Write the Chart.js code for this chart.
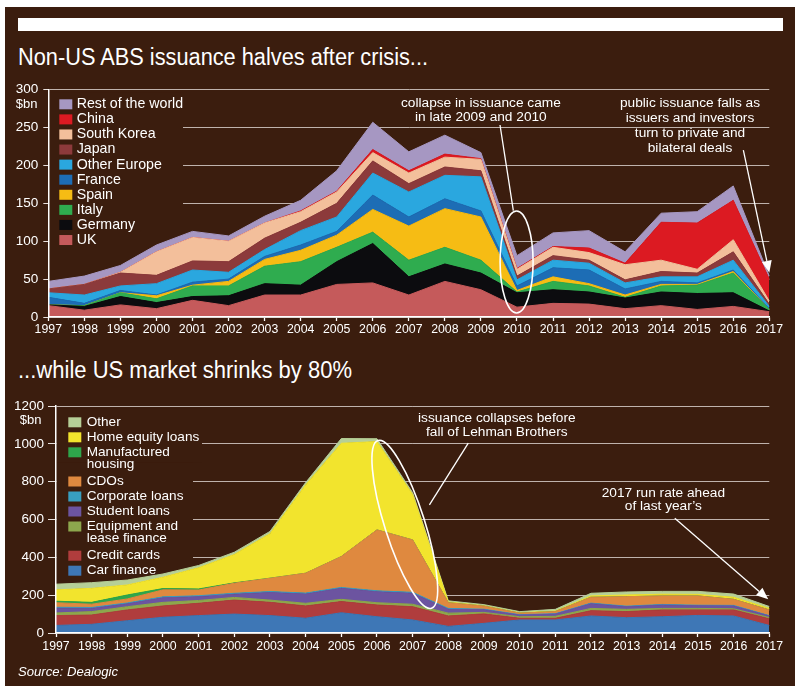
<!DOCTYPE html>
<html>
<head>
<meta charset="utf-8">
<script src="https://cdn.jsdelivr.net/npm/chart.js@4.4.1/dist/chart.umd.min.js"></script>
<style>
  body { margin: 0; width: 800px; height: 693px; background: #fff; position: relative; overflow: hidden; }
  .panel { position: absolute; left: 5px; top: 7px; width: 790px; height: 679px; background: #3b1d0e; }
  .bar { position: absolute; left: 18px; top: 18px; width: 765px; height: 13px; background: #fff; }
  .title { position: absolute; left: 18px; color: #fff; font-family: 'Liberation Sans', Arial, sans-serif; font-size: 23.5px; line-height: 24px; white-space: nowrap; transform-origin: 0 0; }
  .source { position: absolute; left: 18px; top: 665px; color: #fff; font-family: 'Liberation Sans', Arial, sans-serif; font-style: italic; font-size: 13px; line-height: 14px; white-space: nowrap; transform-origin: 0 0; }
  canvas { position: absolute; left: 0; }
</style>
</head>
<body>
<div class="panel"></div>
<div class="bar"></div>
<div class="title" data-w="410" style="top:45px">Non-US ABS issuance halves after crisis...</div>
<div class="title" data-w="334" style="top:358px">...while US market shrinks by 80%</div>
<canvas id="nonUs" width="800" height="345" style="top:0"></canvas>
<canvas id="us" width="800" height="330" style="top:360px"></canvas>
<div class="source" data-w="100">Source: Dealogic</div>

<script>
const FONT = "'Liberation Sans', Arial, sans-serif";
const BG = '#3b1d0e';

const years = ['1997', '1998', '1999', '2000', '2001', '2002', '2003', '2004', '2005', '2006', '2007',
  '2008', '2009', '2010', '2011', '2012', '2013', '2014', '2015', '2016', '2017'];

// non-US issuance, $bn (bottom of stack first)
const uk          = [15, 9, 16, 11, 22, 15, 29, 29, 43, 45, 29, 47, 36, 13, 18, 17, 11, 15, 10, 14, 7];
const germany     = [1, 5, 11, 8, 5, 13, 15, 13, 30, 52, 24, 23, 22, 19, 18, 16, 14, 18, 21, 18, 1];
const italy       = [0, 1, 5, 5, 14, 13, 23, 31, 19, 15, 22, 22, 17, 1, 11, 8, 1, 8, 11, 26, 2];
const spain       = [0, 0, 0, 4, 1, 6, 9, 15, 16, 30, 45, 51, 57, 2, 6, 3, 3, 2, 1, 2, 0];
const france      = [10, 3, 3, 1, 4, 3, 4, 7, 5, 19, 12, 13, 8, 6, 12, 18, 8, 4, 2, 2, 1];
const otherEurope = [6, 11, 6, 15, 16, 9, 9, 19, 19, 29, 33, 31, 45, 8, 10, 9, 8, 6, 8, 13, 3];
const japan       = [5, 14, 17, 11, 12, 14, 15, 11, 18, 16, 11, 11, 8, 5, 6, 4, 4, 7, 5, 11, 3];
const southKorea  = [0, 0, 1, 31, 31, 27, 20, 14, 15, 11, 14, 13, 15, 9, 11, 10, 20, 15, 5, 16, 4];
const china       = [0, 0, 0, 0, 0, 0, 0, 1, 1, 4, 3, 4, 1, 1, 1, 6, 2, 50, 61, 52, 29];
const restOfWorld = [10, 11, 9, 9, 8, 7, 9, 14, 27, 36, 25, 25, 8, 17, 18, 23, 15, 12, 15, 19, 4];
const nonUsTicks  = [0, 50, 100, 150, 200, 250, 300];

// US issuance, $bn (bottom of stack first)
const carFinance     = [40, 46, 65, 83, 92, 100, 92, 78, 107, 86, 69, 35, 51, 69, 69, 90, 81, 86, 93, 90, 40];
const creditCards    = [52, 49, 57, 60, 65, 74, 70, 65, 59, 62, 70, 55, 50, 9, 9, 28, 32, 36, 29, 32, 35];
const equipment      = [14, 18, 17, 19, 15, 14, 12, 14, 12, 12, 13, 15, 8, 8, 10, 12, 12, 8, 8, 6, 7];
const studentLoans   = [25, 17, 15, 24, 20, 17, 40, 49, 58, 58, 58, 20, 14, 9, 12, 25, 14, 18, 14, 15, 8];
const corporateLoans = [5, 5, 5, 5, 5, 5, 5, 5, 5, 5, 5, 5, 3, 2, 2, 3, 3, 3, 3, 3, 2];
const cdos           = [24, 17, 21, 37, 30, 53, 70, 105, 163, 322, 277, 30, 16, 8, 11, 31, 50, 45, 49, 32, 30];
const manufactured   = [8, 10, 21, 7, 6, 2, 1, 0, 0, 0, 0, 0, 0, 0, 0, 0, 0, 0, 0, 0, 0];
const homeEquity     = [60, 74, 53, 60, 112, 150, 235, 467, 599, 467, 240, 4, 2, 2, 3, 7, 9, 9, 8, 11, 8];
const otherUs        = [30, 30, 26, 17, 12, 12, 12, 12, 25, 15, 10, 6, 6, 6, 9, 14, 16, 15, 16, 17, 10];
const usTicks        = [0, 200, 400, 600, 800, 1000, 1200];

const nonUsSeries = [
  ['UK', uk, '#c55a5b'],
  ['Germany', germany, '#0c0c0f'],
  ['Italy', italy, '#2fac4f'],
  ['Spain', spain, '#f6bc14'],
  ['France', france, '#1d6db5'],
  ['Other Europe', otherEurope, '#2aa7df'],
  ['Japan', japan, '#8c3a3b'],
  ['South Korea', southKorea, '#f3bf9b'],
  ['China', china, '#dc1a22'],
  ['Rest of the world', restOfWorld, '#a697c2'],
];

const usSeries = [
  ['Car finance', carFinance, '#3e77b6'],
  ['Credit cards', creditCards, '#b03d3d'],
  [['Equipment and', 'lease finance'], equipment, '#8da74d'],
  ['Student loans', studentLoans, '#6c54a0'],
  ['Corporate loans', corporateLoans, '#389fc0'],
  ['CDOs', cdos, '#df893f'],
  [['Manufactured', 'housing'], manufactured, '#2ea64b'],
  ['Home equity loans', homeEquity, '#f2e42d'],
  ['Other', otherUs, '#b6cf97'],
];

// squeeze the headline texts to the width they have in the original
document.querySelectorAll('[data-w]').forEach(el => {
  const w = el.getBoundingClientRect().width;
  el.style.transform = 'scaleX(' + (el.dataset.w / w) + ')';
});

// brown patch behind the legend so the gridlines stop at it
const legendBack = {
  id: 'legendBack',
  beforeDatasetsDraw(chart, args, o) {
    const { ctx, chartArea: a } = chart;
    const y = chart.scales.y;
    ctx.save();
    ctx.fillStyle = BG;
    o.boxes.forEach(b => {
      ctx.fillRect(a.left + 1, y.getPixelForValue(b.from), b.right - a.left - 1,
        y.getPixelForValue(b.to) - y.getPixelForValue(b.from));
    });
    ctx.restore();
  }
};

const legendDraw = {
  id: 'legendDraw',
  afterDatasetsDraw(chart, args, o) {
    const { ctx, chartArea: a } = chart;
    ctx.save();
    ctx.font = o.size + 'px ' + FONT;
    ctx.textBaseline = 'middle';
    ctx.textAlign = 'left';
    let yy = a.top + o.top;
    const items = chart.data.datasets.slice().reverse();
    items.forEach(ds => {
      const lines = Array.isArray(ds.label) ? ds.label : [ds.label];
      ctx.fillStyle = ds.backgroundColor;
      ctx.fillRect(a.left + o.left, yy - 5, 13, 10);
      ctx.fillStyle = '#fff';
      lines.forEach((s, k) => ctx.fillText(s, a.left + o.left + o.gap, yy + k * o.lineH));
      yy += o.step + (lines.length - 1) * (o.lineH + 2.5);
    });
    // unit label under the top tick
    ctx.textAlign = 'right';
    ctx.font = '13px ' + FONT;
    ctx.fillText('$bn', o.unitX, a.top + 14.7);
    ctx.restore();
  }
};

const notes = {
  id: 'notes',
  afterDraw(chart, args, o) {
    const { ctx, scales: { x, y } } = chart;
    const P = (p) => [x.getPixelForValue(p[0]), y.getPixelForValue(p[1])];
    ctx.save();
    ctx.fillStyle = '#fff';
    ctx.strokeStyle = '#fff';
    ctx.lineWidth = 1.3;
    ctx.font = '13.7px ' + FONT;
    ctx.textAlign = 'center';
    ctx.textBaseline = 'middle';
    o.texts.forEach(t => {
      const [px, py] = P(t.at);
      t.lines.forEach((s, k) => ctx.fillText(s, px, py + k * t.step));
    });
    o.lines.forEach(l => {
      const [x1, y1] = P(l.from), [x2, y2] = P(l.to);
      ctx.beginPath(); ctx.moveTo(x1, y1); ctx.lineTo(x2, y2); ctx.stroke();
    });
    o.arrows.forEach(l => {
      const [x1, y1] = P(l.from), [x2, y2] = P(l.to);
      const ang = Math.atan2(y2 - y1, x2 - x1);
      const bx = x2 - 12 * Math.cos(ang), by = y2 - 12 * Math.sin(ang);
      ctx.beginPath(); ctx.moveTo(x1, y1); ctx.lineTo(bx, by); ctx.stroke();
      ctx.beginPath();
      ctx.moveTo(x2, y2);
      ctx.lineTo(bx + 5 * Math.sin(ang), by - 5 * Math.cos(ang));
      ctx.lineTo(bx - 5 * Math.sin(ang), by + 5 * Math.cos(ang));
      ctx.closePath(); ctx.fill();
    });
    ctx.lineWidth = 1.6;
    o.ellipses.forEach(e => {
      const [cx, cy] = P(e.at);
      ctx.beginPath();
      ctx.ellipse(cx, cy, e.rx, e.ry, e.rot * Math.PI / 180, 0, Math.PI * 2);
      ctx.stroke();
    });
    ctx.restore();
  }
};

function makeChart(id, series, ticks, s) {
  const datasets = series.map(([label, data, color], i) => ({
    label,
    data,
    backgroundColor: color,
    borderColor: color,
    borderWidth: 1,
    pointRadius: 0,
    tension: 0,
    fill: i === 0 ? 'origin' : '-1',
  }));
  return new Chart(document.getElementById(id), {
    type: 'line',
    data: { labels: years, datasets },
    plugins: [legendBack, legendDraw, notes],
    options: {
      responsive: false,
      animation: false,
      events: [],
      layout: { padding: s.padding },
      plugins: {
        legend: { display: false },
        tooltip: { enabled: false },
        legendBack: { boxes: s.backBoxes },
        legendDraw: s.legend,
        notes: s.notes,
      },
      scales: {
        x: {
          offset: false,
          grid: { display: true, drawOnChartArea: false, drawTicks: true, tickLength: 4, tickColor: '#fff', tickWidth: 1.3 },
          border: { display: true, color: '#fff', width: 1.5, z: 1 },
          ticks: { color: '#fff', font: { family: FONT, size: 12.3 }, padding: s.xPad, maxRotation: 0, autoSkip: false },
          afterFit: sc => { sc.height = 20; },
        },
        y: {
          stacked: true,
          min: 0,
          max: ticks[ticks.length - 1],
          afterBuildTicks: sc => { sc.ticks = ticks.map(v => ({ value: v })); },
          grid: { color: 'rgba(215,205,200,0.85)', lineWidth: 1, tickLength: s.tickLen, tickColor: '#e8e0dc' },
          border: { display: true, color: '#fff', width: 1.5, z: 1 },
          ticks: { color: '#fff', font: { family: FONT, size: 13.5 }, padding: s.yPad, callback: v => String(v) },
          afterFit: sc => { sc.width = s.yWidth; },
        },
      },
    },
  });
}

makeChart('nonUs', nonUsSeries, nonUsTicks, {
  padding: { top: 89.7, right: 30.7, bottom: 8, left: 0 },
  yWidth: 48.3, tickLen: 5, yPad: 5, xPad: 1,
  backBoxes: [{ from: 296, to: 2, right: 183 }],
  legend: { top: 14.6, left: 11, gap: 17.4, size: 14.2, step: 15.08, lineH: 11.7, unitX: 37.5 },
  notes: {
    texts: [
      { at: [12.0, 282.8], lines: ['collapse in issuance came', 'in late 2009 and 2010'], step: 14.5 },
      { at: [17.8, 282.8], lines: ['public issuance falls as', 'issuers and investors', 'turn to private and', 'bilateral deals'], step: 15 },
    ],
    lines: [{ from: [12.53, 253.4], to: [12.9, 140.3] }],
    arrows: [{ from: [19.28, 220.4], to: [20.0, 58.5] }],
    ellipses: [{ at: [12.99, 72.6], rx: 16.5, ry: 51, rot: 0 }],
  },
});

makeChart('us', usSeries, usTicks, {
  padding: { top: 46, right: 30.7, bottom: 37, left: 0 },
  yWidth: 56, tickLen: 8, yPad: 4, xPad: 2,
  backBoxes: [{ from: 1185, to: 900, right: 202 }, { from: 900, to: 10, right: 193 }],
  legend: { top: 16.3, left: 12.3, gap: 18.4, size: 13.6, step: 15, lineH: 11.7, unitX: 41.5 },
  notes: {
    texts: [
      { at: [12.36, 1136], lines: ['issuance collapses before', 'fall of Lehman Brothers'], step: 14 },
      { at: [17.03, 739], lines: ['2017 run rate ahead', 'of last year\u2019s'], step: 13.4 },
    ],
    lines: [{ from: [11.56, 1004], to: [10.47, 677] }],
    arrows: [{ from: [17.35, 607], to: [19.97, 178] }],
    ellipses: [{ at: [9.78, 574], rx: 88, ry: 20, rot: 72.3 }],
  },
});
</script>
</body>
</html>
